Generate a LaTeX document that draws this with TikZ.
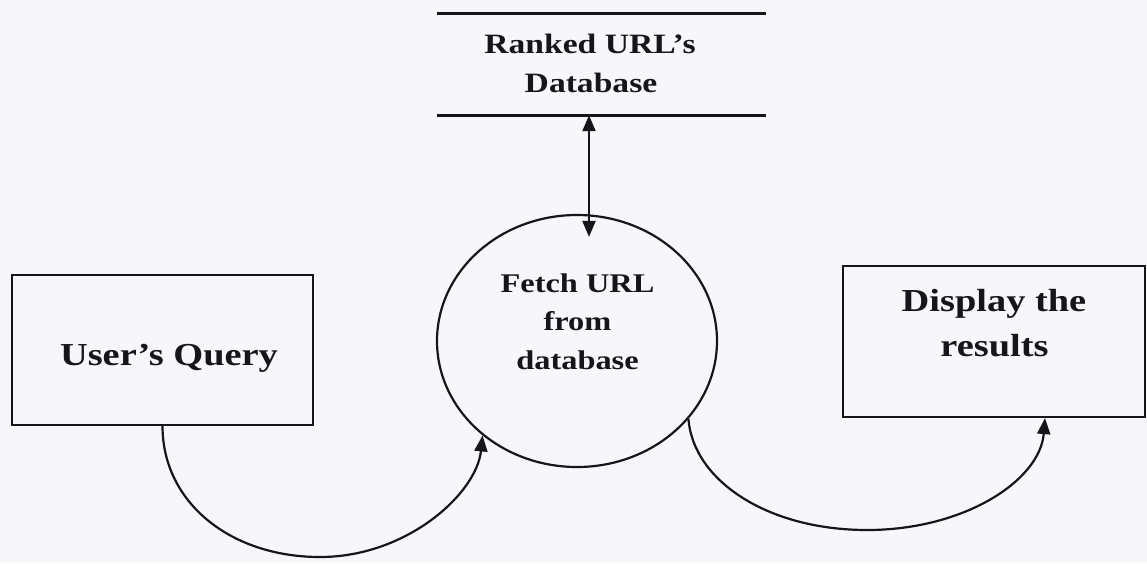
\documentclass[tikz,border=0pt]{standalone}
\usepackage{fontspec}
\setmainfont[FakeStretch=1.2]{Liberation Serif}
\usetikzlibrary{arrows.meta,shapes.geometric}
\definecolor{paper}{RGB}{247,247,249}
\definecolor{ink}{RGB}{22,22,26}
\tikzset{
  >={Triangle[length=16pt,width=13pt]},
  procbox/.style={draw=ink, line width=2.2pt, rectangle, inner sep=0pt},
  procell/.style={draw=ink, line width=2.2pt, ellipse, inner sep=0pt,
    minimum width=280pt, minimum height=252pt},
  storebox/.style={rectangle, inner sep=0pt, minimum width=329pt, minimum height=101pt},
  storeline/.style={draw=ink, line width=2.8pt},
  flow/.style={draw=ink, line width=2.2pt, ->},
  lbl/.style={text=ink, inner sep=0pt, anchor=base, font=\bfseries},
}
\begin{document}
\begin{tikzpicture}[x=1pt, y=-1pt]
  \useasboundingbox (0,0) rectangle (1147,563);
  \fill[paper] (0,0) rectangle (1147,563);

  % data store: ranked URLs
  \node[storebox] (db) at (601.5,64.5) {};
  \draw[storeline] (db.north west) -- (db.north east);
  \draw[storeline] (db.south west) -- (db.south east);
  \node[lbl, font=\bfseries\fontsize{28}{34}\selectfont] (db1) at (590,53) {Ranked URL’s};
  \node[lbl, font=\bfseries\fontsize{28}{34}\selectfont] (db2) at (591,92) {Database};

  % process: fetch URL
  \node[procell] (fetch) at (577,341) {};
  \node[lbl, font=\bfseries\fontsize{27}{33}\selectfont] (f1) at (577.5,292) {Fetch URL};
  \node[lbl, font=\bfseries\fontsize{27}{33}\selectfont] (f2) at (577.5,330) {from};
  \node[lbl, font=\bfseries\fontsize{27}{33}\selectfont] (f3) at (577.5,369) {database};

  % external entities
  \node[procbox, minimum width=301pt, minimum height=150pt] (uq) at (162.5,350) {};
  \node[lbl, font=\bfseries\fontsize{32}{38}\selectfont] (uqt) at (169,365) {User’s Query};

  \node[procbox, minimum width=302pt, minimum height=151pt] (disp) at (994,341.5) {};
  \node[lbl, font=\bfseries\fontsize{32}{38}\selectfont] (d1) at (994,311) {Display the};
  \node[lbl, font=\bfseries\fontsize{32}{38}\selectfont] (d2) at (994.5,356) {results};

  % data flows
  \draw[flow, <->] ([xshift=-12.5pt]db.south) -- ([xshift=12pt,yshift=-23pt]fetch.north);

  \coordinate (low1) at (320,557);
  \draw[flow] (uq.south) .. controls +(0,76) and +(-90,0) .. (low1)
              .. controls +(87,0) and +(-6,58) .. (fetch.225);

  \coordinate (low2) at (867,530);
  \draw[flow] (fetch.-35) .. controls +(5,62) and +(-99,0) .. (low2)
              .. controls +(98,0) and +(-5,62) .. ([xshift=51pt]disp.south);
\end{tikzpicture}
\end{document}
